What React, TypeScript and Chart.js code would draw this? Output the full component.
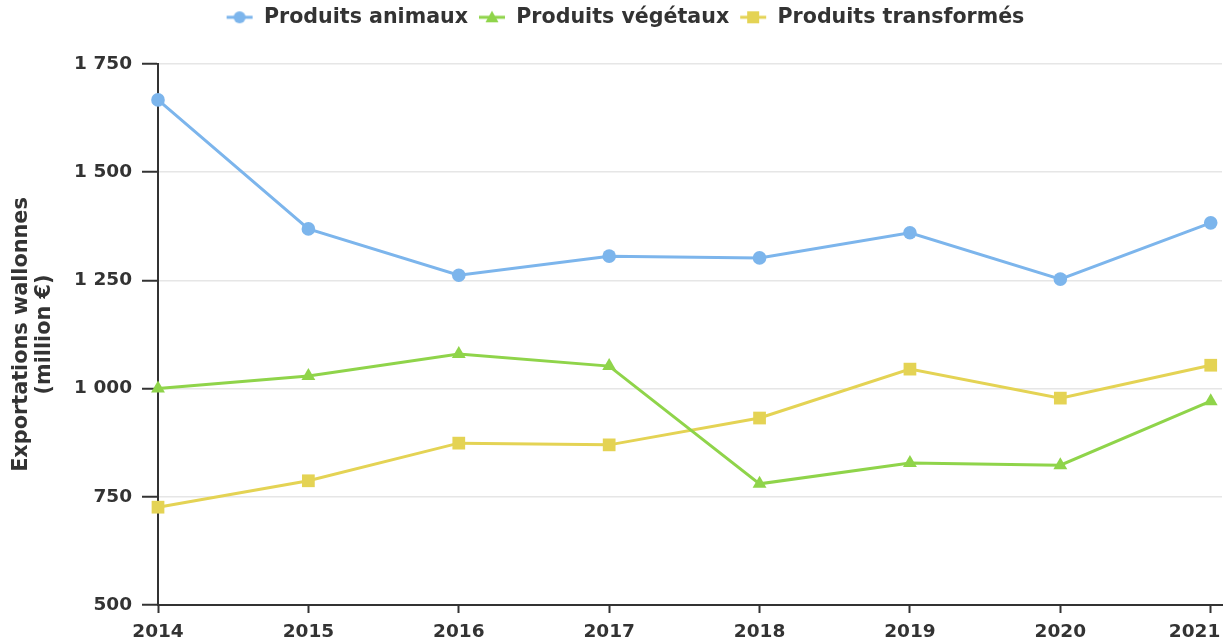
import React, { useEffect, useRef } from "react";
import { Chart, registerables } from "chart.js";

Chart.register(...registerables);

const years = [2014, 2015, 2016, 2017, 2018, 2019, 2020, 2021];
const animaux = [1667, 1369, 1262, 1306, 1302, 1360, 1253, 1383];
const vegetaux = [1000, 1029, 1080, 1052, 780, 828, 823, 971];
const transformes = [726, 787, 874, 870, 932, 1045, 978, 1054];
const seriesLabels = ["Produits animaux", "Produits végétaux", "Produits transformés"];
const yTicks = [500, 750, 1000, 1250, 1500, 1750];
const yTitle = ["Exportations wallonnes", "(million €)"];

const COLORS = ["#7cb5ec", "#8fd44a", "#e4d354"];
const STYLES = ["circle", "triangle", "rect"];
const RADII = [6.8, 8, 9];
const FONT = "'DejaVu Sans', sans-serif";
const TEXT = "#333333";

function fmt(v: number): string {
  if (v >= 1000) {
    return Math.floor(v / 1000) + " " + String(v % 1000).padStart(3, "0");
  }
  return String(v);
}

function legendIcon(i: number): HTMLCanvasElement {
  const c = document.createElement("canvas");
  c.width = 28;
  c.height = 16;
  const ctx = c.getContext("2d")!;
  ctx.strokeStyle = COLORS[i];
  ctx.fillStyle = COLORS[i];
  ctx.lineWidth = 3;
  ctx.beginPath();
  ctx.moveTo(1, 8);
  ctx.lineTo(27, 8);
  ctx.stroke();
  ctx.beginPath();
  if (i === 0) {
    ctx.arc(14, 8, 6, 0, Math.PI * 2);
  } else if (i === 1) {
    ctx.moveTo(14, 1.5);
    ctx.lineTo(20.5, 13);
    ctx.lineTo(7.5, 13);
    ctx.closePath();
  } else {
    ctx.rect(8, 2, 12, 12);
  }
  ctx.fill();
  return c;
}

const legendShift = {
  id: "legendShift",
  afterLayout(chart: any) {
    const lg = chart.legend;
    if (!lg) return;
    const h = lg.bottom - lg.top;
    lg.top = -3;
    lg.bottom = lg.top + h;
  },
};

export default function App() {
  const ref = useRef<HTMLCanvasElement | null>(null);

  useEffect(() => {
    if (!ref.current) return;
    const icons = [0, 1, 2].map(legendIcon);
    const seriesData = [animaux, vegetaux, transformes];
    const chart = new Chart(ref.current, {
      type: "line",
      plugins: [legendShift],
      data: {
        datasets: seriesData.map((vals, i) => ({
          label: seriesLabels[i],
          data: years.map((y, k) => ({ x: y, y: vals[k] })),
          borderColor: COLORS[i],
          backgroundColor: COLORS[i],
          borderWidth: 3,
          pointStyle: STYLES[i] as any,
          pointRadius: RADII[i],
          pointHoverRadius: RADII[i],
          pointBorderWidth: 0,
          tension: 0,
          fill: false,
          clip: 12,
        })),
      },
      options: {
        animation: false,
        responsive: false,
        maintainAspectRatio: false,
        layout: { autoPadding: false, padding: { top: 0, right: 2, bottom: 0, left: 28 } },
        plugins: {
          tooltip: { enabled: false },
          legend: {
            position: "top",
            labels: {
              usePointStyle: true,
              pointStyleWidth: 28,
              padding: 10,
              color: TEXT,
              font: { family: FONT, size: 20.6, weight: "bold", lineHeight: 1.1 },
              generateLabels: (ch: any) => {
                const items = Chart.defaults.plugins.legend.labels.generateLabels(ch);
                return items.map((it: any, i: number) => ({ ...it, pointStyle: icons[i] }));
              },
            },
          },
        },
        scales: {
          x: {
            type: "linear",
            min: 2014,
            max: 2021.075,
            afterBuildTicks: (s: any) => {
              s.ticks = years.map((v) => ({ value: v }));
            },
            afterFit: (s: any) => {
              s.height = 37;
              s.paddingRight = 0;
              s.paddingLeft = 0;
            },
            border: { display: true, color: TEXT, width: 2 },
            grid: {
              drawOnChartArea: false,
              drawTicks: true,
              tickLength: 8,
              tickColor: TEXT,
              tickWidth: 2,
            },
            ticks: {
              color: TEXT,
              padding: 8,
              maxRotation: 0,
              autoSkip: false,
              font: { family: FONT, size: 18.5, weight: "bold" },
              callback: (v: any) => (Number(v) === 2021 ? String(v) + "     " : String(v)),
            },
          },
          y: {
            type: "linear",
            min: 500,
            max: 1750,
            afterBuildTicks: (s: any) => {
              s.ticks = yTicks.map((v) => ({ value: v }));
            },
            afterFit: (s: any) => {
              s.width = 130;
              s.paddingTop = 64;
            },
            border: { display: true, color: TEXT, width: 2 },
            grid: {
              color: "#e6e6e6",
              lineWidth: 1.5,
              tickLength: 16,
              tickColor: TEXT,
              tickWidth: 2,
            },
            title: {
              display: true,
              text: yTitle,
              color: TEXT,
              padding: { top: -18, bottom: 0 },
              font: { family: FONT, size: 20.8, weight: "bold", lineHeight: 1.1 },
            },
            ticks: {
              color: TEXT,
              padding: 10,
              font: { family: FONT, size: 18.5, weight: "bold" },
              callback: (v: any) => fmt(Number(v)),
            },
          },
        },
      },
    });
    return () => chart.destroy();
  }, []);

  return (
    <div style={{ position: "fixed", left: 0, top: 0, width: 1224, height: 642, background: "#fff" }}>
      <canvas ref={ref} width={1224} height={642} style={{ width: 1224, height: 642, display: "block" }} />
    </div>
  );
}
